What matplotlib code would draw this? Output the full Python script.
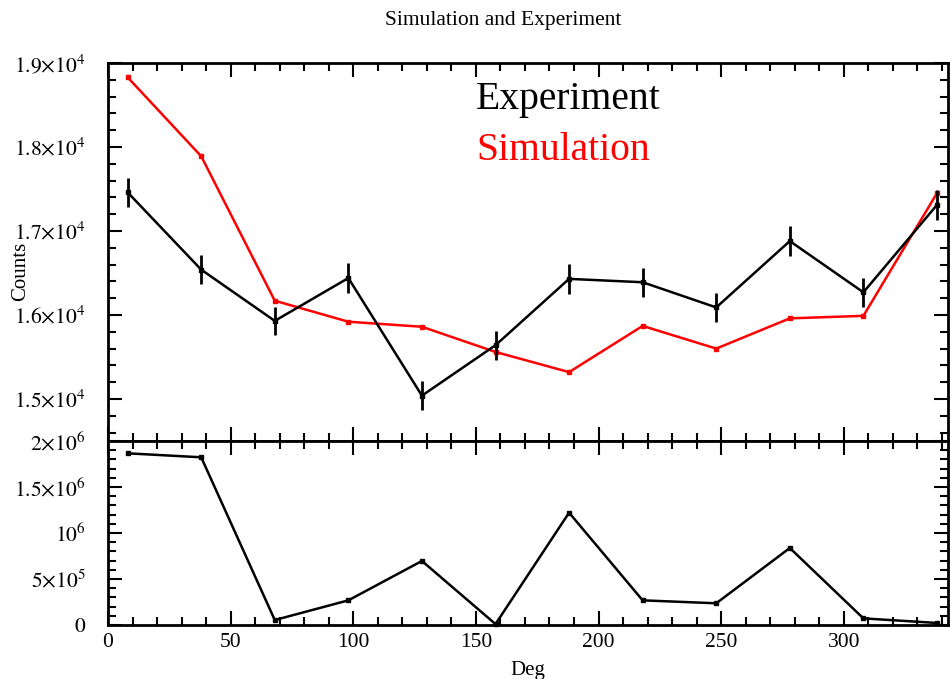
import matplotlib
matplotlib.use("Agg")
import matplotlib.pyplot as plt
from matplotlib.ticker import MultipleLocator, FuncFormatter

plt.rcParams['font.family'] = ['Liberation Serif', 'DejaVu Serif']
plt.rcParams['mathtext.fontset'] = 'stix'

deg = [8, 38, 68, 98, 128, 158, 188, 218, 248, 278, 308, 338]
experiment = [17460, 16540, 15930, 16440, 15040, 15640, 16430, 16390, 16090, 16880, 16270, 17310]
experiment_err = [170, 170, 170, 175, 170, 170, 175, 175, 175, 180, 175, 175]
simulation = [18830, 17890, 16170, 15920, 15860, 15560, 15320, 15870, 15600, 15960, 15990, 17450]
difference = [1.866e6, 1.823e6, 5.4e4, 2.68e5, 6.96e5, 1.0e4, 1.221e6, 2.68e5, 2.36e5, 8.37e5, 7.2e4, 2.2e4]

def sci_fmt(v, pos):
    if v == 0:
        return r'$0$'
    exp = 0
    m = abs(v)
    while m >= 10:
        m /= 10.0
        exp += 1
    m = round(m, 3)
    if abs(m - 1) < 1e-9:
        return r'$10^{%d}$' % exp
    ms = ('%g' % m)
    return r'$%s{\times}10^{%d}$' % (ms, exp)

fig = plt.figure(figsize=(9.5, 6.79), dpi=100)
L, R = 108/950, 948/950
ax1 = fig.add_axes([L, 1-441/679, R-L, (441-63)/679])
ax2 = fig.add_axes([L, 1-625/679, R-L, (625-441)/679], sharex=ax1)

ax1.errorbar(deg, experiment, yerr=experiment_err, color='black', lw=1.8,
             marker='s', ms=3.5, elinewidth=2, capsize=0, zorder=3)
ax1.plot(deg, simulation, color='red', lw=1.8, marker='s', ms=3.5, zorder=2)
ax2.plot(deg, difference, color='black', lw=1.8, marker='s', ms=3.5, clip_on=False)

ax1.set_xlim(0, 342.5)
ax1.set_ylim(14500, 19000)
ax2.set_ylim(0, 2e6)

for ax in (ax1, ax2):
    for s in ax.spines.values():
        s.set_linewidth(2)
    ax.tick_params(which='both', direction='in', top=True, right=True, width=1.5,
                   labelsize=15.5)
    ax.tick_params(which='major', length=10)
    ax.tick_params(which='minor', length=6)
    ax.tick_params(axis='y', pad=16)
    ax.tick_params(axis='x', pad=6)
    ax.xaxis.set_major_locator(MultipleLocator(50))
    ax.xaxis.set_minor_locator(MultipleLocator(10))
    ax.yaxis.set_major_formatter(FuncFormatter(sci_fmt))

ax1.yaxis.set_major_locator(MultipleLocator(1000))
ax1.yaxis.set_minor_locator(MultipleLocator(200))
ax2.yaxis.set_major_locator(MultipleLocator(5e5))
ax2.yaxis.set_minor_locator(MultipleLocator(1e5))
ax1.tick_params(labelbottom=False)
ax2.xaxis.set_major_formatter(FuncFormatter(lambda v, p: '%d' % v))

ax1.set_ylabel('Counts', fontsize=15)
ax1.yaxis.set_label_coords(-0.093, 0.45)
ax2.set_xlabel('Deg', fontsize=15, labelpad=6)

fig.text(503/950, 1-21/679, 'Simulation and Experiment', ha='center', va='center', fontsize=15.5)
ax1.text(476/950, 1-100/679, 'Experiment', transform=fig.transFigure, color='black',
         fontsize=28.5, va='center', ha='left')
ax1.text(476/950, 1-150/679, 'Simulation', transform=fig.transFigure, color='red',
         fontsize=28.5, va='center', ha='left')

fig.savefig('out.png', dpi=100)
